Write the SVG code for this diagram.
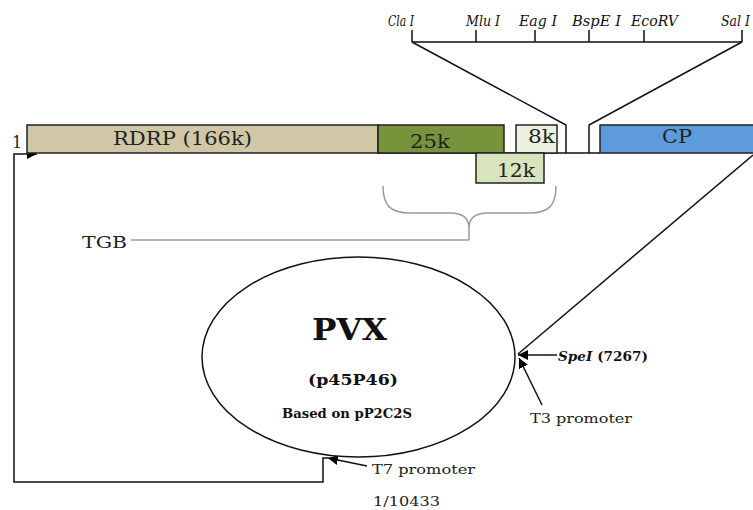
<svg xmlns="http://www.w3.org/2000/svg" width="753" height="510" viewBox="0 0 753 510">
  <defs>
    <marker id="arrow" viewBox="0 0 10 10" refX="10" refY="5" markerWidth="10" markerHeight="10" markerUnits="userSpaceOnUse" orient="auto">
      <path d="M0,0 L10,5 L0,10 z" fill="#000"/>
    </marker>
    <style>
      .lbl { font-family: "DejaVu Serif", "Liberation Serif", serif; fill: #222; }
      .site { font-family: "DejaVu Serif", "Liberation Serif", serif; font-style: italic; font-size: 14px; fill: #111; }
      .box { stroke: #222; stroke-width: 1.5; }
      .wire { fill: none; stroke: #111; stroke-width: 1.5; }
      .brace { fill: none; stroke: #9a9a9a; stroke-width: 1.5; }
      .bold { font-family: "DejaVu Serif", "Liberation Serif", serif; font-weight: bold; fill: #111; }
    </style>
  </defs>

  <rect width="753" height="510" fill="#fff"/>

  <!-- restriction sites of the multiple cloning site -->
  <g id="mcs">
    <path class="wire" d="M412,42 L742,42 M412,30 L412,42 M476,30 L476,42 M535,30 L535,42 M589,30 L589,42 M644,30 L644,42 M742,30 L742,42"/>
    <text class="site" x="388" y="26" textLength="26" lengthAdjust="spacingAndGlyphs">Cla I</text>
    <text class="site" x="466" y="26" textLength="34" lengthAdjust="spacingAndGlyphs">Mlu I</text>
    <text class="site" x="519" y="26" textLength="38" lengthAdjust="spacingAndGlyphs">Eag I</text>
    <text class="site" x="572" y="26" textLength="49" lengthAdjust="spacingAndGlyphs">BspE I</text>
    <text class="site" x="631" y="26" textLength="47" lengthAdjust="spacingAndGlyphs">EcoRV</text>
    <text class="site" x="721" y="26" textLength="29" lengthAdjust="spacingAndGlyphs">Sal I</text>
  </g>

  <!-- connectors -->
  <g id="connectors">
    <!-- genome backbone -->
    <path class="wire" d="M378,153 L600,153"/>
    <!-- expansion of the cloning site -->
    <path class="wire" d="M412,42 L566,125 L566,153 M742,42 L589,125 L589,153"/>
    <!-- loop from the plasmid back to nucleotide 1 -->
    <path class="wire" d="M328,458 L323,458 L323,482 L14,482 L14,154 L37,154" marker-end="url(#arrow)"/>
    <!-- CP end to the plasmid -->
    <path class="wire" d="M753,155 L518,354"/>
    <!-- SpeI site -->
    <path class="wire" d="M557,355 L518,355" marker-end="url(#arrow)"/>
    <!-- T3 promoter -->
    <path class="wire" d="M542,405 L519,358" marker-end="url(#arrow)"/>
    <!-- T7 promoter -->
    <path class="wire" d="M367,466 L328,458" marker-end="url(#arrow)"/>
    <!-- triple gene block brace -->
    <path class="brace" d="M383,186 C383,205 390,213 410,213 L450,213 C463,213 469,218 469,228 L469,240 M469,228 C469,218 475,213 488,213 L530,213 C549,213 556,205 556,186"/>
    <path class="brace" d="M131,240 L469,240"/>
  </g>

  <g id="start">
    <text class="lbl" x="12" y="148" font-size="16">1</text>
  </g>

  <g id="rdrp">
    <rect class="box" x="27" y="125" width="351" height="28" fill="#cfc7a6"/>
    <text class="lbl" x="113" y="145" font-size="18" textLength="139" lengthAdjust="spacingAndGlyphs">RDRP (166k)</text>
  </g>

  <g id="p25k">
    <rect class="box" x="378" y="125" width="126" height="28" fill="#77933c"/>
    <text class="lbl" x="410" y="148" font-size="18" textLength="40" lengthAdjust="spacingAndGlyphs">25k</text>
  </g>

  <g id="p8k">
    <rect class="box" x="516" y="125" width="41" height="28" fill="#ebf1de"/>
    <text class="lbl" x="528" y="143" font-size="18" textLength="27" lengthAdjust="spacingAndGlyphs">8k</text>
  </g>

  <g id="p12k">
    <rect class="box" x="476" y="153" width="68" height="30" fill="#d7e4bd"/>
    <text class="lbl" x="497" y="177" font-size="18" textLength="38" lengthAdjust="spacingAndGlyphs">12k</text>
  </g>

  <g id="cp">
    <rect class="box" x="600" y="125" width="156" height="28" fill="#5e9bdb"/>
    <text class="lbl" x="662" y="143" font-size="18" textLength="30" lengthAdjust="spacingAndGlyphs" fill="#1a2a44">CP</text>
  </g>

  <g id="tgb">
    <text class="lbl" x="82" y="248" font-size="17" textLength="45" lengthAdjust="spacingAndGlyphs">TGB</text>
  </g>

  <g id="pvx">
    <ellipse cx="358.5" cy="357" rx="156.5" ry="100" fill="#fff" stroke="#111" stroke-width="1.5"/>
    <text class="bold" x="312" y="340" font-size="30" textLength="75" lengthAdjust="spacingAndGlyphs">PVX</text>
    <text class="bold" x="308" y="385" font-size="14" textLength="90" lengthAdjust="spacingAndGlyphs">(p45P46)</text>
    <text class="bold" x="282" y="418" font-size="12" textLength="130" lengthAdjust="spacingAndGlyphs">Based on pP2C2S</text>
  </g>

  <g id="spei">
    <text class="bold" x="558" y="361" font-size="13" textLength="90" lengthAdjust="spacingAndGlyphs"><tspan font-style="italic">SpeI</tspan> (7267)</text>
  </g>

  <g id="t3">
    <text class="lbl" x="530" y="423" font-size="13" textLength="102" lengthAdjust="spacingAndGlyphs">T3 promoter</text>
  </g>

  <g id="t7">
    <text class="lbl" x="372" y="474" font-size="13" textLength="103" lengthAdjust="spacingAndGlyphs">T7  promoter</text>
  </g>

  <g id="length">
    <text class="lbl" x="373" y="506" font-size="13" textLength="67" lengthAdjust="spacingAndGlyphs">1/10433</text>
  </g>
</svg>
